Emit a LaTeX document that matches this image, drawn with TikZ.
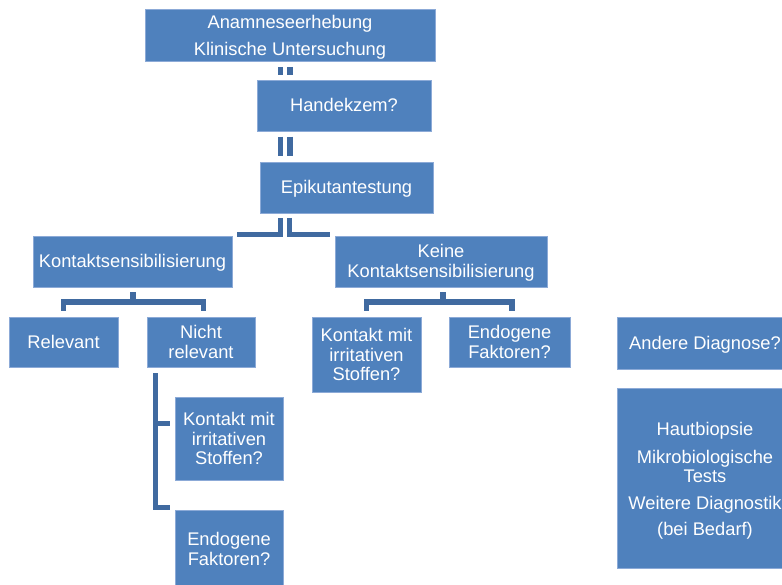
\documentclass[tikz,border=0pt]{standalone}
\usepackage{fontspec}
\setmainfont{Liberation Sans}
\definecolor{boxblue}{RGB}{79,129,189}
\definecolor{boxedge}{RGB}{140,170,215}
\definecolor{connblue}{RGB}{64,106,160}
\tikzset{
  box/.style={draw=boxedge, fill=boxblue, line width=0.7pt, text=white,
    font=\fontsize{18.3}{19.5}\selectfont, align=center, inner sep=0pt},
  onebox/.style={box, text height=13.5pt, text depth=0.5pt},
  conn/.style={draw=connblue, line width=5.5pt, line cap=butt, line join=miter}
}
\begin{document}
\begin{tikzpicture}[x=1pt,y=-1pt]
\useasboundingbox (0,0) rectangle (782,585);
\clip (0,0) rectangle (782,585);
% boxes
\node[box, minimum width=290pt, minimum height=52pt] (A) at (290,35) {\rule{0pt}{17.5pt}Anamneseerhebung\\[7.5pt]Klinische Untersuchung};
\node[onebox, minimum width=174pt, minimum height=51pt] (H) at (344,105.5) {Handekzem?};
\node[onebox, minimum width=173pt, minimum height=51pt] (E) at (346.5,187.5) {Epikutantestung};
\node[onebox, minimum width=199pt, minimum height=51pt] (K) at (132.5,261.5) {Kontaktsensibilisierung};
\node[box, minimum width=212pt, minimum height=51pt] (KK) at (441,261.5) {\rule{0pt}{16pt}Keine\\Kontaktsensibilisierung};
\node[onebox, minimum width=109pt, minimum height=50pt] (R) at (63.5,342) {Relevant};
\node[box, minimum width=108pt, minimum height=50pt] (NR) at (201,342) {Nicht\\relevant};
\node[box, minimum width=109pt, minimum height=75pt] (KM) at (366.5,354.5) {Kontakt mit\\irritativen\\Stoffen?};
\node[box, minimum width=121pt, minimum height=50pt] (EF) at (509.5,342) {Endogene\\Faktoren?};
\node[box, minimum width=108pt, minimum height=83pt] (KL) at (229,438.5) {Kontakt mit\\irritativen\\Stoffen?};
\node[box, minimum width=108pt, minimum height=78pt] (EL) at (229,549) {Endogene\\Faktoren?};
\node[onebox, minimum width=176pt, minimum height=52pt] (AD) at (705,343) {Andere Diagnose?};
\node[box, minimum width=176pt, minimum height=180pt] (HB) at (705,478) {\rule{0pt}{18.5pt}Hautbiopsie\\[8.5pt]Mikrobiologische\\[-0.5pt]Tests\\[8pt]Weitere Diagnostik\\[6.5pt](bei Bedarf)};
% connectors
\coordinate (a1) at (280.5,67);   \coordinate (a2) at (280.5,75);
\coordinate (b1) at (290,67);     \coordinate (b2) at (290,75);
\draw[conn] (a1) -- (a2);
\draw[conn] (b1) -- (b2);
\coordinate (c1) at (280.5,136.7); \coordinate (c2) at (280.5,156.5);
\coordinate (d1) at (290,136.7);   \coordinate (d2) at (290,156.5);
\draw[conn] (c1) -- (c2);
\draw[conn] (d1) -- (d2);
\coordinate (e1) at (280.5,218); \coordinate (e2) at (237,235);
\coordinate (f1) at (289.7,218); \coordinate (f2) at (330,235);
\draw[conn, line width=5pt] (e1) -- (e1 |- e2) -- (e2);
\draw[conn, line width=5pt] (f1) -- (f1 |- f2) -- (f2);
% Kontaktsensibilisierung children
\coordinate (k1) at (133,292.3); \coordinate (k2) at (133,302);
\coordinate (kl) at (63.5,311);  \coordinate (kr) at (203.3,311);
\draw[conn] (k1) -- (k2);
\draw[conn] (kl) -- (kl |- k2) -- (kr |- k2) -- (kr);
% Keine children
\coordinate (m1) at (443,292.3); \coordinate (m2) at (443,302);
\coordinate (ml) at (366.5,311); \coordinate (mr) at (512,311);
\draw[conn] (m1) -- (m2);
\draw[conn] (ml) -- (ml |- m2) -- (mr |- m2) -- (mr);
% bracket under Nicht relevant
\coordinate (n1) at (155.5,373);
\coordinate (n2) at (170,423.5);
\coordinate (n3) at (170,507.5);
\draw[conn] (n1) -- (n1 |- n3) -- (n3);
\draw[conn] (n1 |- n2) -- (n2);
\end{tikzpicture}
\end{document}
